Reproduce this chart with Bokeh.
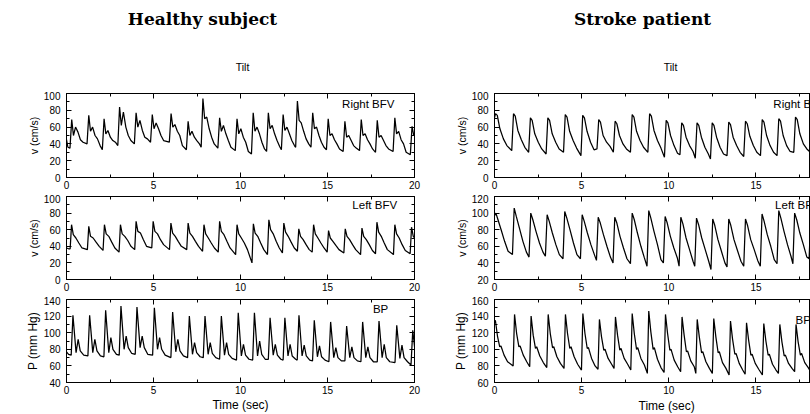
from bokeh.plotting import figure
from bokeh.models import LinearAxis, Range1d, Label, FixedTicker, Title
from bokeh.layouts import row, column
from bokeh.embed import file_html
from bokeh.resources import INLINE

# ------------------------------------------------------------------ data
X_TICKS = [0, 5, 10, 15, 20]
X_MINOR = [2.5, 7.5, 12.5, 17.5]

# Healthy subject - Right BFV (cm/s): beat peak times and per-beat values
L1_OFFSETS = [-0.10, 0.0, 0.10, 0.22, 0.36, 0.50, 0.65]
L1_LEAD_T = [0.0, 0.08]
L1_LEAD_V = [45, 36]
L1_T = [0.30, 1.28, 2.16, 3.05, 4.00, 4.93, 6.01, 6.99, 7.84, 8.80, 9.80,
        10.73, 11.60, 12.45, 13.27, 14.15, 15.04, 16.00, 16.94, 17.86, 18.87, 19.86]
L1_FOOT = [35, 40, 33, 38, 40, 42, 42, 33, 36, 35, 32, 28, 31, 33, 36, 36, 33, 31, 32, 30, 31, 27]
L1_PEAK = [69, 74, 70, 84, 77, 75, 76, 67, 94, 71, 70, 77, 77, 75, 91, 77, 70, 67, 69, 68, 71, 61]
L1_DROP = [50, 55, 52, 62, 60, 58, 60, 50, 70, 55, 52, 55, 58, 56, 68, 58, 50, 48, 50, 48, 52, 50]
L1_BUMP = [60, 60, 56, 78, 68, 65, 63, 55, 72, 62, 58, 60, 62, 60, 65, 60, 52, 50, 52, 50, 55, 52]
L1_MID = [54, 50, 48, 60, 56, 58, 55, 48, 58, 52, 48, 52, 52, 52, 55, 50, 45, 44, 45, 44, 45, 45]
L1_LATE = [45, 46, 44, 50, 48, 50, 50, 44, 48, 44, 42, 42, 44, 44, 46, 42, 40, 38, 40, 38, 40, 40]
L1_PRE = [42, 38, 42, 44, 46, 44, 38, 40, 40, 36, 31, 34, 37, 38, 40, 36, 34, 35, 34, 34, 30, 35]

# Healthy subject - Left BFV (cm/s)
L2_OFFSETS = [-0.08, 0.0, 0.10, 0.25, 0.42, 0.60]
L2_LEAD_T = [0.0, 0.12]
L2_LEAD_V = [38, 37]
L2_T = [0.29, 1.28, 2.18, 3.10, 4.00, 4.98, 6.00, 6.99, 7.90, 8.80, 9.80,
        10.74, 11.63, 12.49, 13.35, 14.20, 15.06, 16.02, 16.98, 17.84, 18.87, 19.83]
L2_FOOT = [37, 36, 35, 33, 36, 38, 36, 36, 34, 33, 30, 20, 30, 32, 34, 33, 33, 32, 30, 31, 30, 31]
L2_PEAK = [66, 64, 66, 66, 70, 70, 68, 68, 66, 70, 66, 67, 72, 68, 61, 66, 59, 61, 62, 69, 66, 63]
L2_DROP = [54, 52, 55, 55, 58, 58, 56, 56, 55, 58, 55, 56, 60, 57, 52, 55, 50, 52, 52, 57, 55, 52]
L2_BUMP = [50, 50, 52, 52, 56, 55, 52, 52, 50, 54, 50, 52, 55, 52, 48, 50, 46, 48, 48, 52, 50, 48]
L2_MID = [44, 45, 45, 47, 48, 48, 46, 46, 44, 46, 44, 44, 46, 45, 42, 44, 41, 42, 42, 44, 42, 42]
L2_LATE = [38, 40, 38, 40, 40, 42, 40, 40, 38, 38, 36, 36, 38, 38, 36, 38, 36, 36, 35, 36, 35, 35]

# Healthy subject - BP (mm Hg)
L3_OFFSETS = [-0.10, 0.0, 0.18, 0.30, 0.42, 0.62]
L3_LEAD_T = [0.0, 0.12]
L3_LEAD_V = [77, 74]
L3_T = [0.37, 1.33, 2.25, 3.13, 4.05, 5.05, 6.10, 7.06, 7.96, 8.90, 9.87,
        10.80, 11.70, 12.55, 13.36, 14.24, 15.18, 16.10, 17.02, 17.96, 18.98, 19.90]
L3_FOOT = [73, 72, 71, 73, 74, 73, 70, 70, 70, 68, 67, 67, 68, 67, 67, 66, 65, 66, 65, 65, 64, 61]
L3_PEAK = [121, 121, 127, 132, 131, 130, 125, 120, 120, 120, 124, 124, 118, 118, 121, 115, 113, 108, 113, 114, 109, 103]
L3_NOTCH = [76, 76, 76, 80, 82, 80, 77, 74, 74, 73, 72, 72, 73, 72, 72, 71, 70, 70, 70, 70, 69, 68]
L3_DICR = [92, 92, 94, 96, 96, 94, 92, 88, 88, 88, 86, 90, 86, 86, 85, 84, 82, 83, 83, 86, 85, 80]
L3_AFTER = [78, 78, 80, 82, 82, 80, 78, 76, 75, 74, 73, 74, 73, 72, 72, 71, 70, 70, 70, 70, 70, 68]
L3_LATE = [73, 72, 74, 75, 74, 73, 72, 71, 70, 69, 68, 68, 68, 68, 67, 67, 66, 66, 65, 65, 65, 64]

# Stroke patient - Right BFV (cm/s)
R1_OFFSETS = [-0.10, 0.0, 0.10, 0.25, 0.45, 0.65]
R1_T = [0.06, 1.09, 2.06, 3.06, 4.06, 5.06, 5.98, 6.92, 7.90, 8.90, 9.85,
        10.74, 11.62, 12.49, 13.44, 14.40, 15.36, 16.31, 17.27, 18.22]
R1_FOOT = [68, 32, 30, 28, 30, 26, 34, 30, 30, 30, 24, 27, 23, 22, 26, 25, 26, 26, 30, 30]
R1_PEAK = [76, 76, 71, 71, 75, 74, 69, 67, 75, 76, 68, 65, 65, 65, 66, 67, 69, 70, 72, 70]
R1_PLAT = [74, 73, 68, 68, 72, 71, 66, 64, 72, 73, 65, 62, 62, 62, 63, 64, 66, 67, 69, 67]
R1_KNEE = [58, 56, 52, 52, 55, 55, 50, 50, 55, 56, 50, 48, 48, 48, 48, 49, 50, 50, 52, 50]
R1_MID = [46, 45, 42, 42, 44, 42, 42, 40, 44, 44, 38, 38, 36, 36, 38, 38, 38, 38, 40, 40]
R1_LATE = [38, 36, 34, 34, 35, 33, 37, 34, 36, 35, 29, 31, 28, 28, 30, 30, 30, 31, 34, 33]

# Stroke patient - Left BFV (cm/s)
R2_OFFSETS = [-0.10, 0.0, 0.12, 0.30, 0.50, 0.70]
R2_T = [0.08, 1.13, 2.08, 3.02, 4.03, 5.03, 5.95, 6.90, 7.90, 8.85, 9.79,
        10.69, 11.59, 12.52, 13.44, 14.40, 15.35, 16.31, 17.22, 18.15]
R2_FOOT = [96, 50, 47, 48, 45, 45, 43, 40, 39, 36, 40, 36, 36, 32, 35, 36, 36, 39, 39, 45]
R2_PEAK = [100, 106, 100, 98, 102, 98, 95, 95, 100, 103, 96, 95, 94, 93, 93, 93, 99, 103, 100, 98]
R2_SHOULDER = [92, 96, 92, 90, 94, 90, 88, 88, 92, 94, 88, 87, 86, 85, 85, 85, 90, 94, 92, 90]
R2_KNEE = [80, 82, 78, 76, 80, 76, 74, 72, 76, 78, 72, 70, 70, 68, 68, 68, 74, 78, 76, 74]
R2_MID = [66, 66, 64, 62, 64, 62, 60, 58, 60, 62, 58, 56, 56, 54, 55, 56, 60, 62, 62, 60]
R2_LATE = [54, 53, 53, 50, 50, 50, 47, 45, 46, 44, 46, 42, 42, 40, 42, 43, 44, 48, 47, 50]

# Stroke patient - BP (mm Hg)
R3_OFFSETS = [-0.08, 0.0, 0.12, 0.25, 0.32, 0.50, 0.70]
R3_T = [0.05, 1.15, 2.10, 3.08, 4.07, 5.07, 6.02, 6.94, 7.90, 8.85, 9.81,
        10.76, 11.63, 12.58, 13.54, 14.46, 15.45, 16.37, 17.30, 18.25]
R3_FOOT = [130, 80, 79, 78, 77, 75, 76, 77, 75, 71, 72, 73, 71, 71, 69, 70, 69, 71, 73, 72]
R3_PEAK = [135, 142, 140, 142, 142, 143, 136, 139, 143, 146, 142, 139, 136, 137, 134, 132, 131, 130, 130, 128]
R3_FALL = [116, 119, 117, 119, 119, 119, 115, 117, 119, 121, 119, 117, 115, 115, 112, 111, 110, 109, 109, 107]
R3_NOTCH = [103, 103, 101, 102, 101, 101, 99, 99, 100, 100, 99, 97, 96, 96, 94, 93, 93, 92, 93, 91]
R3_DICR = [104, 104, 103, 103, 103, 102, 100, 101, 102, 102, 100, 98, 97, 97, 95, 94, 94, 93, 95, 93]
R3_MID = [93, 93, 92, 91, 91, 89, 89, 89, 89, 88, 87, 86, 85, 84, 83, 83, 82, 83, 84, 83]
R3_LATE = [85, 85, 84, 83, 82, 80, 82, 82, 81, 78, 79, 79, 77, 77, 75, 76, 75, 77, 78, 77]


def series(lead_t, lead_v, peaks, offsets, rows):
    ts, vs = list(lead_t), list(lead_v)
    for i, tp in enumerate(peaks):
        for off, col in zip(offsets, rows):
            ts.append(round(tp + off, 3))
            vs.append(col[i])
    return ts, vs


SANS = "Liberation Sans"
SERIF = "DejaVu Serif"
INK = "black"


def style_axis(ax, show_labels=True):
    ax.axis_line_color = INK
    ax.axis_line_width = 1
    ax.major_tick_in = 5
    ax.major_tick_out = 0
    ax.minor_tick_in = 3
    ax.minor_tick_out = 0
    ax.major_tick_line_color = INK
    ax.minor_tick_line_color = INK
    ax.major_label_text_font = SANS
    ax.axis_label_text_font = SANS
    ax.axis_label_text_font_style = "normal"
    ax.axis_label_text_color = INK
    if show_labels:
        ax.major_label_text_font_size = "10px"
        ax.major_label_text_color = INK
    else:
        ax.major_label_text_font_size = "0px"
        ax.major_label_text_color = None
        ax.major_label_standoff = 0


def panel(width, height, borders, x_end, y_lo, y_hi, ylabel, ylabel_size,
          t, v, name, name_x, name_y, name_align, mirror_right,
          xlabel=None, xtitle_offset=None):
    bl, br, bt, bb = borders
    p = figure(width=width, height=height,
               x_range=Range1d(0, x_end), y_range=Range1d(y_lo, y_hi),
               output_backend="svg", toolbar_location=None,
               min_border_left=bl, min_border_right=br,
               min_border_top=bt, min_border_bottom=bb)
    p.grid.visible = False
    p.outline_line_color = INK
    p.outline_line_width = 1
    p.background_fill_color = "white"
    p.border_fill_color = "white"

    xt = FixedTicker(ticks=X_TICKS, minor_ticks=X_MINOR)
    yt = FixedTicker(ticks=list(range(y_lo, y_hi + 1, 20)),
                     minor_ticks=list(range(y_lo + 10, y_hi, 20)))

    xa = p.xaxis[0]
    ya = p.yaxis[0]
    xa.ticker = xt
    ya.ticker = yt
    style_axis(xa)
    style_axis(ya)
    xa.major_label_standoff = 3
    ya.major_label_standoff = 6
    ya.axis_label = ylabel
    ya.axis_label_text_font_size = ylabel_size
    ya.axis_label_standoff = 1
    if xlabel:
        xa.axis_label = xlabel
        xa.axis_label_text_font_size = "12px"
        xa.axis_label_standoff = 1

    top = LinearAxis(ticker=xt)
    style_axis(top, show_labels=False)
    p.add_layout(top, "above")
    if mirror_right:
        rt = LinearAxis(ticker=yt)
        style_axis(rt, show_labels=False)
        p.add_layout(rt, "right")

    p.line(t, v, line_color=INK, line_width=1.25)

    p.add_layout(Label(x=name_x, y=name_y, text=name, text_align=name_align,
                       text_baseline="middle", text_font=SANS,
                       text_font_size="11.5px", text_color=INK))
    if xtitle_offset is not None:
        p.add_layout(Title(text="Time (sec)", align="left", offset=xtitle_offset,
                           text_font=SANS, text_font_size="12px",
                           text_font_style="normal", text_color=INK,
                           standoff=0), "below")
    return p


l1_t, l1_v = series(L1_LEAD_T, L1_LEAD_V, L1_T, L1_OFFSETS,
                    [L1_FOOT, L1_PEAK, L1_DROP, L1_BUMP, L1_MID, L1_LATE, L1_PRE])
l2_t, l2_v = series(L2_LEAD_T, L2_LEAD_V, L2_T, L2_OFFSETS,
                    [L2_FOOT, L2_PEAK, L2_DROP, L2_BUMP, L2_MID, L2_LATE])
l3_t, l3_v = series(L3_LEAD_T, L3_LEAD_V, L3_T, L3_OFFSETS,
                    [L3_FOOT, L3_PEAK, L3_NOTCH, L3_DICR, L3_AFTER, L3_LATE])
r1_t, r1_v = series([], [], R1_T, R1_OFFSETS,
                    [R1_FOOT, R1_PEAK, R1_PLAT, R1_KNEE, R1_MID, R1_LATE])
r2_t, r2_v = series([], [], R2_T, R2_OFFSETS,
                    [R2_FOOT, R2_PEAK, R2_SHOULDER, R2_KNEE, R2_MID, R2_LATE])
r3_t, r3_v = series([], [], R3_T, R3_OFFSETS,
                    [R3_FOOT, R3_PEAK, R3_FALL, R3_NOTCH, R3_DICR, R3_MID, R3_LATE])

LW, RW = 430, 380
L_B = (66, 16)
R_B = (64, 0)
R_XEND = 18.13
H1, H2, H3 = 103, 102, 118
B1, B2, B3 = (2, 17), (2, 17), (3, 32)

p1 = panel(LW, H1, L_B + B1, 20, 0, 100, "v (cm/s)", "10.5px", l1_t, l1_v,
           "Right BFV", 18.85, 88, "right", True)
p2 = panel(LW, H2, L_B + B2, 20, 0, 100, "v (cm/s)", "10.5px", l2_t, l2_v,
           "Left BFV", 19.0, 90, "right", True)
p3 = panel(LW, H3, L_B + B3, 20, 40, 140, "P (mm Hg)", "12px", l3_t, l3_v,
           "BP", 18.49, 128.8, "right", True, xlabel="Time (sec)")

q1 = panel(RW, H1, R_B + B1, R_XEND, 0, 100, "v (cm/s)", "10.5px", r1_t, r1_v,
           "Right BFV", 16.0, 88, "left", False)
q2 = panel(RW, H2, R_B + B2, R_XEND, 20, 120, "v (cm/s)", "10.5px", r2_t, r2_v,
           "Left BFV", 16.1, 110, "left", False)
q3 = panel(RW, H3, R_B + B3, R_XEND, 60, 160, "P (mm Hg)", "12px", r3_t, r3_v,
           "BP", 17.27, 134.8, "left", False, xtitle_offset=144)

HEAD_H = 91
head = figure(width=LW + RW, height=HEAD_H, x_range=Range1d(0, LW + RW),
              y_range=Range1d(HEAD_H, 0), x_axis_type=None, y_axis_type=None,
              output_backend="svg", toolbar_location=None, min_border=0)
head.outline_line_color = None
head.grid.visible = False
for txt, x, y, font, size, style in [
    ("Healthy subject", 202, 18.5, SERIF, "17px", "bold"),
    ("Stroke patient", 642, 18.5, SERIF, "17px", "bold"),
    ("Tilt", 242, 66.7, SANS, "10.5px", "normal"),
    ("Tilt", 670, 66.7, SANS, "10.5px", "normal"),
]:
    head.add_layout(Label(x=x, y=y, text=txt, text_align="center",
                          text_baseline="alphabetic", text_font=font,
                          text_font_size=size, text_font_style=style,
                          text_color=INK))

layout = column(head, row(column(p1, p2, p3), column(q1, q2, q3)))

open("out.html", "w").write(file_html(layout, INLINE))
